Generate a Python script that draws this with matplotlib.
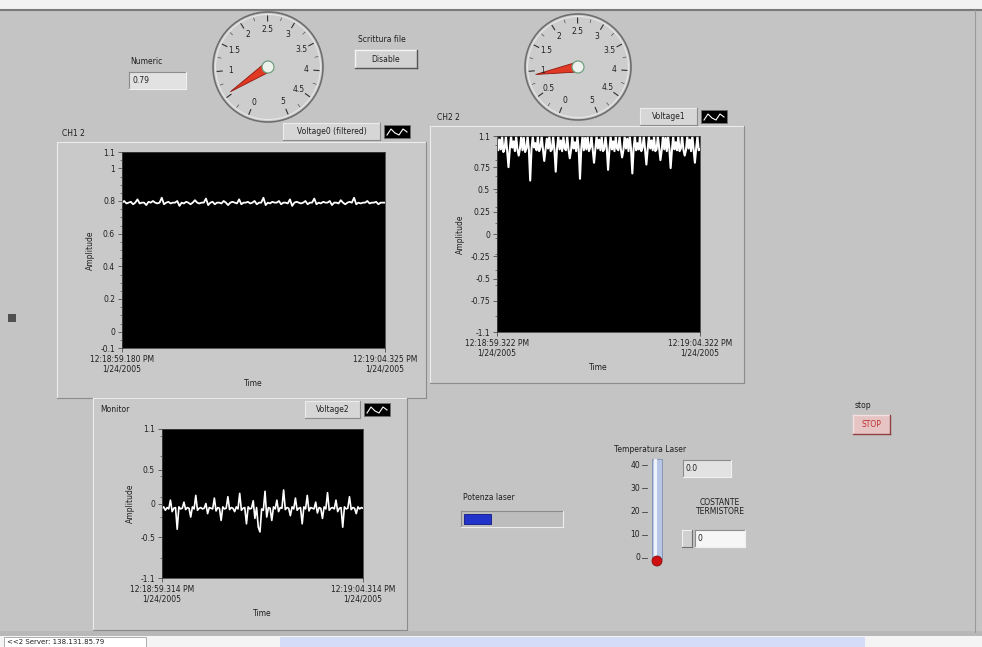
import matplotlib
matplotlib.use('Agg')
import matplotlib.pyplot as plt
import numpy as np
from matplotlib.patches import Rectangle, Circle, Polygon
from matplotlib.ticker import AutoMinorLocator

# ---- data ----
ch1_vals = [0.79,0.80,0.785,0.79,0.795,0.78,0.79,0.81,0.785,0.79,
            0.79,0.775,0.795,0.79,0.80,0.79,0.785,0.79,0.82,0.78,
            0.79,0.795,0.785,0.79,0.79,0.80,0.77,0.79,0.785,0.795,
            0.79,0.78,0.79,0.805,0.79,0.785,0.79,0.79,0.815,0.775,
            0.79,0.795,0.78,0.79,0.79,0.785,0.80,0.79,0.775,0.79,
            0.795,0.79,0.785,0.81,0.78,0.79,0.79,0.795,0.785,0.79,
            0.80,0.78,0.79,0.79,0.82,0.775,0.79,0.785,0.795,0.79,
            0.79,0.80,0.78,0.79,0.79,0.785,0.81,0.77,0.79,0.795,
            0.79,0.785,0.79,0.80,0.78,0.79,0.79,0.815,0.78,0.79,
            0.785,0.795,0.79,0.79,0.80,0.775,0.79,0.79,0.785,0.805,
            0.79,0.78,0.79,0.795,0.79,0.82,0.78,0.79,0.785,0.79,
            0.79,0.80,0.785,0.79,0.79,0.795,0.78,0.79,0.79,0.79]
ch2_vals = [1.1,0.94,1.06,0.95,1.1,0.92,0.96,1.1,0.93,0.75,
            0.95,1.1,0.97,1.04,0.93,1.1,0.95,0.88,0.96,1.1,
            0.94,1.08,0.92,0.96,1.1,0.94,0.6,0.95,1.1,0.97,
            1.02,0.94,1.1,0.93,0.97,1.1,0.95,0.82,0.94,1.07,
            0.96,1.1,0.93,0.95,1.1,0.94,0.7,0.96,1.1,0.95,
            1.05,0.93,1.1,0.96,0.94,1.1,0.95,0.85,0.94,1.1,
            0.96,1.03,0.93,1.1,0.95,0.62,0.96,1.1,0.94,1.08,
            0.95,1.1,0.93,0.97,1.1,0.94,0.8,0.95,1.1,0.96,
            1.06,0.94,1.1,0.93,0.95,1.1,0.96,0.72,0.94,1.1,
            0.95,1.04,0.93,1.1,0.96,0.94,1.1,0.95,0.86,0.94,
            1.1,0.96,1.07,0.93,1.1,0.95,0.68,0.96,1.1,0.94,
            1.02,0.95,1.1,0.93,0.97,1.1,0.94,0.78,0.95,1.1,
            0.96,1.05,0.94,1.1,0.93,0.95,1.1,0.96,0.83,0.94,
            1.1,0.95,1.08,0.93,1.1,0.96,0.74,0.94,1.1,0.95,
            1.03,0.94,1.1,0.93,0.96,1.1,0.95,0.88,0.94,1.1,
            0.96,1.06,0.93,1.1,0.95,0.8,0.96,1.1,0.94,0.95]
mon_vals = [-0.07,-0.05,-0.1,-0.06,-0.08,0.05,-0.12,-0.07,-0.06,-0.38,
            -0.05,-0.08,-0.07,0.02,-0.09,-0.06,-0.07,-0.2,-0.05,-0.08,
            0.12,-0.1,-0.07,-0.06,-0.08,-0.07,0.0,-0.15,-0.06,-0.07,
            -0.08,0.08,-0.11,-0.06,-0.07,-0.25,-0.05,-0.08,-0.07,0.1,
            -0.09,-0.06,-0.07,-0.12,-0.05,-0.08,0.15,-0.1,-0.07,-0.06,
            -0.3,-0.05,-0.08,-0.07,0.04,-0.22,-0.06,-0.35,-0.42,-0.08,
            -0.1,0.18,-0.2,-0.06,-0.07,-0.25,-0.05,-0.08,0.05,-0.12,
            -0.06,-0.07,0.2,-0.09,-0.06,-0.07,-0.18,-0.05,-0.08,0.08,
            -0.1,-0.07,-0.06,-0.3,-0.05,-0.08,0.12,-0.11,-0.06,-0.07,
            -0.08,0.02,-0.14,-0.06,-0.07,-0.22,-0.05,-0.08,0.16,-0.1,
            -0.07,-0.06,-0.08,0.05,-0.12,-0.07,-0.06,-0.35,-0.05,-0.08,
            -0.07,0.1,-0.09,-0.06,-0.07,-0.15,-0.05,-0.08,-0.06,-0.07]

ch1_yticks = [-0.1, 0, 0.2, 0.4, 0.6, 0.8, 1, 1.1]
ch1_ylabels = ['-0.1', '0', '0.2', '0.4', '0.6', '0.8', '1', '1.1']
ch2_yticks = [-1.1, -0.75, -0.5, -0.25, 0, 0.25, 0.5, 0.75, 1.1]
ch2_ylabels = ['-1.1', '-0.75', '-0.5', '-0.25', '0', '0.25', '0.5', '0.75', '1.1']
mon_yticks = [-1.1, -0.5, 0, 0.5, 1.1]
mon_ylabels = ['-1.1', '-0.5', '0', '0.5', '1.1']

ch1_times = ['12:18:59.180 PM\n1/24/2005', '12:19:04.325 PM\n1/24/2005']
ch2_times = ['12:18:59.322 PM\n1/24/2005', '12:19:04.322 PM\n1/24/2005']
mon_times = ['12:18:59.314 PM\n1/24/2005', '12:19:04.314 PM\n1/24/2005']

gauge_vals = [0, 0.5, 1, 1.5, 2, 2.5, 3, 3.5, 4, 4.5, 5]
gauge_labels = ['0', '0.5', '1', '1.5', '2', '2.5', '3', '3.5', '4', '4.5', '5']
gauge1_value = 0.55
gauge2_value = 0.92
numeric_value = '0.79'
therm_vals = [0, 10, 20, 30, 40]
temp_value = 0.0
potenza = 0.28   # fraction of progress bar

BG = '#c4c4c4'
PANEL = '#c9c9c9'
W, H = 982, 647
FS = 5.5

fig = plt.figure(figsize=(W/100, H/100), dpi=100, facecolor=BG)
bg = fig.add_axes([0, 0, 1, 1])
bg.set_xlim(0, W)
bg.set_ylim(H, 0)
bg.axis('off')
bg.set_facecolor(BG)


def box(x0, y0, x1, y1, face, light='#ececec', dark='#8c8c8c', lw=0.8):
    bg.add_patch(Rectangle((x0, y0), x1-x0, y1-y0, facecolor=face, edgecolor='none'))
    bg.plot([x0, x1], [y0, y0], color=light, lw=lw)
    bg.plot([x0, x0], [y0, y1], color=light, lw=lw)
    bg.plot([x0, x1], [y1, y1], color=dark, lw=lw)
    bg.plot([x1, x1], [y0, y1], color=dark, lw=lw)


def text(x, y, s, size=FS, **kw):
    kw.setdefault('color', '#202020')
    kw.setdefault('va', 'center')
    bg.text(x, y, s, fontsize=size, **kw)


def legend(x0, y0, x1, name):
    box(x0, y0, x1, y0+17, '#d6d6d6')
    text((x0+x1)/2, y0+8.5, name, ha='center')
    bg.add_patch(Rectangle((x1+4, y0+2), 26, 13, facecolor='black', edgecolor='#707070', lw=0.6))
    ix = [x1+7, x1+11, x1+15, x1+19, x1+23, x1+27]
    iy = [y0+12, y0+6, y0+10, y0+12, y0+6, y0+9]
    bg.plot(ix, iy, color='white', lw=0.8)


def chart(rect, vals, ylim, yticks, ylabels, times, lw=1.2):
    x0, y0, x1, y1 = rect
    ax = fig.add_axes([x0/W, 1-y1/H, (x1-x0)/W, (y1-y0)/H])
    ax.set_facecolor('black')
    ax.plot(range(len(vals)), vals, color='white', lw=lw)
    ax.set_xlim(0, len(vals)-1)
    ax.set_ylim(*ylim)
    ax.set_yticks(yticks)
    ax.set_yticklabels(ylabels, fontsize=FS, color='#202020')
    ax.yaxis.set_minor_locator(AutoMinorLocator(2))
    ax.set_xticks([0, len(vals)-1])
    ax.set_xticklabels(times, fontsize=FS, color='#202020', linespacing=1.1)
    ax.tick_params(axis='both', direction='out', length=3, width=0.6, color='#505050', pad=2)
    ax.tick_params(axis='y', which='minor', length=1.5, width=0.5, color='#505050')
    ax.set_ylabel('Amplitude', fontsize=FS, color='#202020', labelpad=4)
    ax.set_xlabel('Time', fontsize=FS, color='#202020', labelpad=4)
    for s in ax.spines.values():
        s.set_color('#404040')
        s.set_linewidth(0.6)
    return ax


# ---- window edges ----
bg.add_patch(Rectangle((0, 0), W, 9, facecolor='#f2f2f2', edgecolor='none'))
bg.plot([0, W], [10, 10], color='#7a7a7a', lw=1.5)
bg.plot([975, 975], [10, 632], color='#9a9a9a', lw=0.8)
bg.add_patch(Rectangle((8, 314), 8, 8, facecolor='#505050', edgecolor='none'))

# ---- chart panels ----
box(57, 142, 426, 398, PANEL)
text(62, 133, 'CH1 2')
legend(283, 123, 380, 'Voltage0 (filtered)')
box(430, 126, 744, 383, PANEL)
text(437, 118, 'CH2 2')
legend(640, 108, 697, 'Voltage1')
box(93, 398, 407, 630, PANEL)
text(100, 410, 'Monitor')
legend(305, 401, 360, 'Voltage2')

chart((122, 152, 385, 348), ch1_vals, (-0.1, 1.1), ch1_yticks, ch1_ylabels, ch1_times, lw=1.3)
chart((497, 136, 700, 332), ch2_vals, (-1.1, 1.1), ch2_yticks, ch2_ylabels, ch2_times, lw=1.5)
chart((162, 429, 363, 578), mon_vals, (-1.1, 1.1), mon_yticks, mon_ylabels, mon_times, lw=1.2)


# ---- gauges ----
def gauge(cx, cy, r, value, hide=None):
    bg.add_patch(Circle((cx, cy), r, facecolor='#cdcdcd', edgecolor='#6e6e6e', lw=1.2))
    bg.add_patch(Circle((cx, cy), r-2.5, facecolor='none', edgecolor='#e8e8e8', lw=0.8))
    for v, lab in zip(gauge_vals, gauge_labels):
        a = np.radians(248 - v*63)
        bg.plot([cx+(r-9)*np.cos(a), cx+(r-4)*np.cos(a)],
                [cy-(r-9)*np.sin(a), cy-(r-4)*np.sin(a)], color='#303030', lw=0.8)
        if lab != hide:
            text(cx+(r-17)*np.cos(a), cy-(r-17)*np.sin(a), lab, ha='center', size=5.5)
    for k in range(10):
        a = np.radians(248 - (k+0.5)*0.5*63)
        bg.plot([cx+(r-7)*np.cos(a), cx+(r-4)*np.cos(a)],
                [cy-(r-7)*np.sin(a), cy-(r-4)*np.sin(a)], color='#505050', lw=0.5)
    a = np.radians(248 - value*63)
    tip = (cx+(r-10)*np.cos(a), cy-(r-10)*np.sin(a))
    p = np.radians(248 - value*63 + 90)
    base1 = (cx+5*np.cos(p), cy-5*np.sin(p))
    base2 = (cx-5*np.cos(p), cy+5*np.sin(p))
    bg.add_patch(Polygon([base1, tip, base2], closed=True, facecolor='#e03a24',
                         edgecolor='#901810', lw=0.6))
    bg.add_patch(Circle((cx, cy), 6, facecolor='#eef2ee', edgecolor='#6fa080', lw=0.9))


gauge(268, 67, 55, gauge1_value, hide='0.5')
gauge(578, 67, 53, gauge2_value)

# ---- numeric indicator ----
text(130, 62, 'Numeric')
box(129, 72, 186, 89, '#e2e2e2', light='#8c8c8c', dark='#f0f0f0')
text(133, 80.5, numeric_value)

# ---- Scrittura file button ----
text(358, 40, 'Scrittura file')
box(355, 50, 417, 68, '#d2d2d2', light='#f4f4f4', dark='#555555', lw=1.0)
text(386, 59, 'Disable', ha='center')

# ---- Potenza laser bar ----
text(463, 497, 'Potenza laser')
box(461, 511, 563, 527, '#bdbdbd', light='#8c8c8c', dark='#eeeeee')
bg.add_patch(Rectangle((464, 514), (560-464)*potenza, 10, facecolor='#2233cc',
                       edgecolor='#101880', lw=0.6))

# ---- thermometer ----
text(614, 450, 'Temperatura Laser')


def ty(v):
    return 558 - v*(93/40)


bg.add_patch(Rectangle((652, 459), 10, 100, facecolor='#b8c6e6', edgecolor='#8090b0', lw=0.6))
bg.add_patch(Rectangle((654, 459), 3, 100, facecolor='#eef2fa', edgecolor='none'))
for v in therm_vals:
    bg.plot([642, 647], [ty(v), ty(v)], color='#404040', lw=0.6)
    text(640, ty(v), str(v), ha='right')
bg.add_patch(Circle((657, ty(temp_value)+3), 5, facecolor='#d01010', edgecolor='#801010', lw=0.6))
box(683, 460, 731, 477, '#e2e2e2', light='#8c8c8c', dark='#f0f0f0')
text(686, 468.5, '%.1f' % temp_value)

# ---- COSTANTE TERMISTORE control ----
text(720, 507, 'COSTANTE\nTERMISTORE', ha='center', linespacing=1.1)
box(682, 530, 692, 547, '#d0d0d0', light='#f0f0f0', dark='#707070')
box(695, 530, 745, 547, '#f6f6f6', light='#8c8c8c', dark='#f0f0f0')
text(698, 538.5, '0')

# ---- stop button ----
text(855, 405, 'stop')
box(853, 415, 890, 434, '#e6c4c4', light='#f4e0e0', dark='#904040', lw=1.0)
text(871.5, 424.5, 'STOP', ha='center', color='#c03030')

# ---- status bar ----
bg.add_patch(Rectangle((0, 631), W, 5, facecolor='#b8b8b8', edgecolor='none'))
bg.add_patch(Rectangle((0, 636), W, 11, facecolor='#f4f4f4', edgecolor='none'))
bg.add_patch(Rectangle((280, 637), 585, 10, facecolor='#d4dcf8', edgecolor='none'))
bg.add_patch(Rectangle((4, 637), 142, 10, facecolor='white', edgecolor='#909090', lw=0.5))
text(7, 642, '<<2 Server: 138.131.85.79', size=5)

fig.savefig('out.png', dpi=100, facecolor=BG)
